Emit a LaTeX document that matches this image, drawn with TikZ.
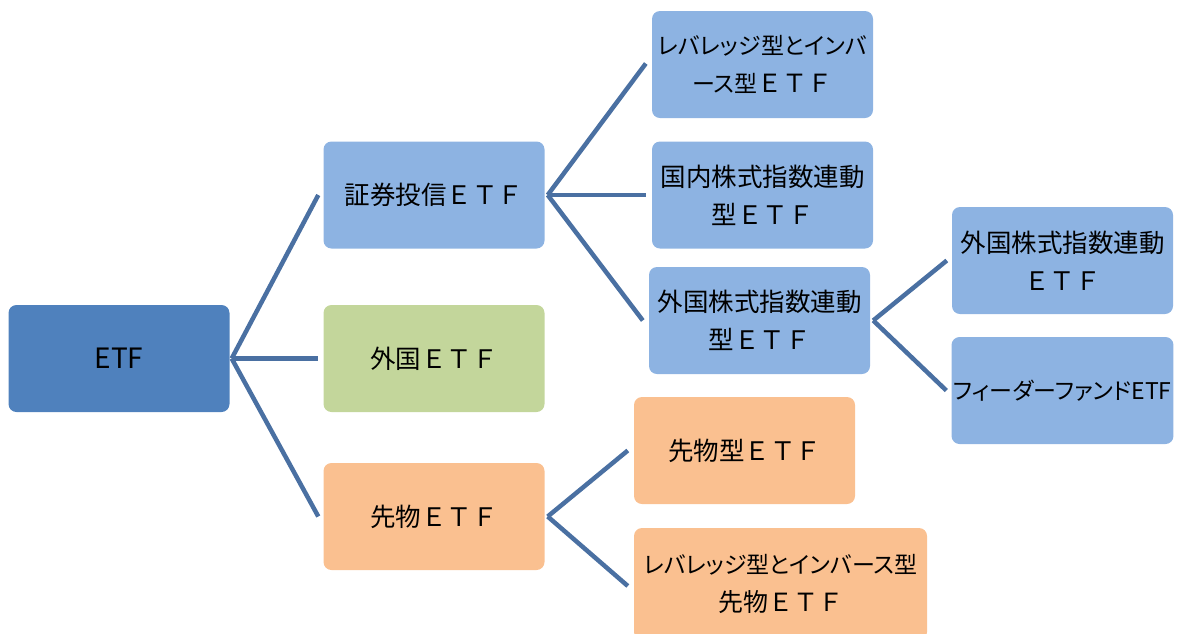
\documentclass[tikz,border=0pt]{standalone}
\usepackage{fontspec}
\setmainfont[RawFeature=+palt]{Noto Sans CJK JP}
\newfontfamily\fw{Noto Sans CJK JP}
\newcommand{\etfw}{{\fw ＥＴＦ}}
\usetikzlibrary{positioning}
\definecolor{rootblue}{HTML}{4F81BD}
\definecolor{lightblue}{HTML}{8DB3E2}
\definecolor{lightgreen}{HTML}{C3D69B}
\definecolor{peach}{HTML}{FAC090}
\definecolor{linkblue}{RGB}{74,112,162}
\tikzset{
  box/.style={rounded corners=8pt, minimum width=221pt, minimum height=107pt, align=center, inner sep=2pt, font=\fontsize{25.5}{38}\selectfont, text=black},
  kana/.style={font=\fontsize{23}{38}\selectfont},
  link/.style={draw=linkblue, line width=4.5pt},
}
\begin{document}
\begin{tikzpicture}[x=1pt,y=-1pt]
\useasboundingbox (0,0) rectangle (1181,633);
\clip (0,0) rectangle (1181,633);
\node[box, fill=rootblue, font=\fontsize{28}{38}\selectfont] (etf) at (119,358.5) {ETF};
\node[box, fill=lightblue] (sec) at (434,195) {証券投信\etfw};
\node[box, fill=lightgreen] (gai) at (434,358.5) {外国\etfw};
\node[box, fill=peach] (sak) at (434,516.5) {先物\etfw};
\node[box, kana, fill=lightblue] (lev) at (762.5,64.5) {レバレッジ型とインバ\\ース型{\fontsize{25}{38}\selectfont\etfw}};
\node[box, fill=lightblue] (kok) at (762.5,195) {国内株式指数連動\\型\etfw};
\node[box, fill=lightblue] (fgn) at (759.5,320.5) {外国株式指数連動\\型\etfw};
\node[box, fill=lightblue] (fgn2) at (1062.5,260.5) {外国株式指数連動\\\etfw};
\node[box, kana, fill=lightblue] (feed) at (1062.5,390.5) {フィーダーファンドETF};
\node[box, fill=peach] (sakg) at (744.5,450.5) {先物型\etfw};
\node[box, kana, fill=peach, minimum width=293pt, minimum height=112pt] (levs) at (780.5,584) {レバレッジ型とインバース型\\{\fontsize{25}{38}\selectfont 先物\etfw}};
% connectors
\draw[link] ([xshift=2pt]etf.east) -- ([xshift=-5pt]sec.west);
\draw[link] ([xshift=2pt]etf.east) -- ([xshift=-5pt]gai.west);
\draw[link] ([xshift=2pt]etf.east) -- ([xshift=-5pt]sak.west);
\draw[link] ([xshift=3pt]sec.east) -- ([xshift=-6pt,yshift=1pt]lev.west);
\draw[link] ([xshift=3pt]sec.east) -- ([xshift=-6pt]kok.west);
\draw[link] ([xshift=3pt]sec.east) -- ([xshift=-6pt]fgn.west);
\draw[link] ([xshift=3pt]fgn.east) -- ([xshift=-5pt]fgn2.west);
\draw[link] ([xshift=3pt]fgn.east) -- ([xshift=-5pt]feed.west);
\draw[link] ([xshift=3pt]sak.east) -- ([xshift=-6pt]sakg.west);
\draw[link] ([xshift=3pt]sak.east) -- ([xshift=-6pt,yshift=-2pt]levs.west);
\end{tikzpicture}
\end{document}
